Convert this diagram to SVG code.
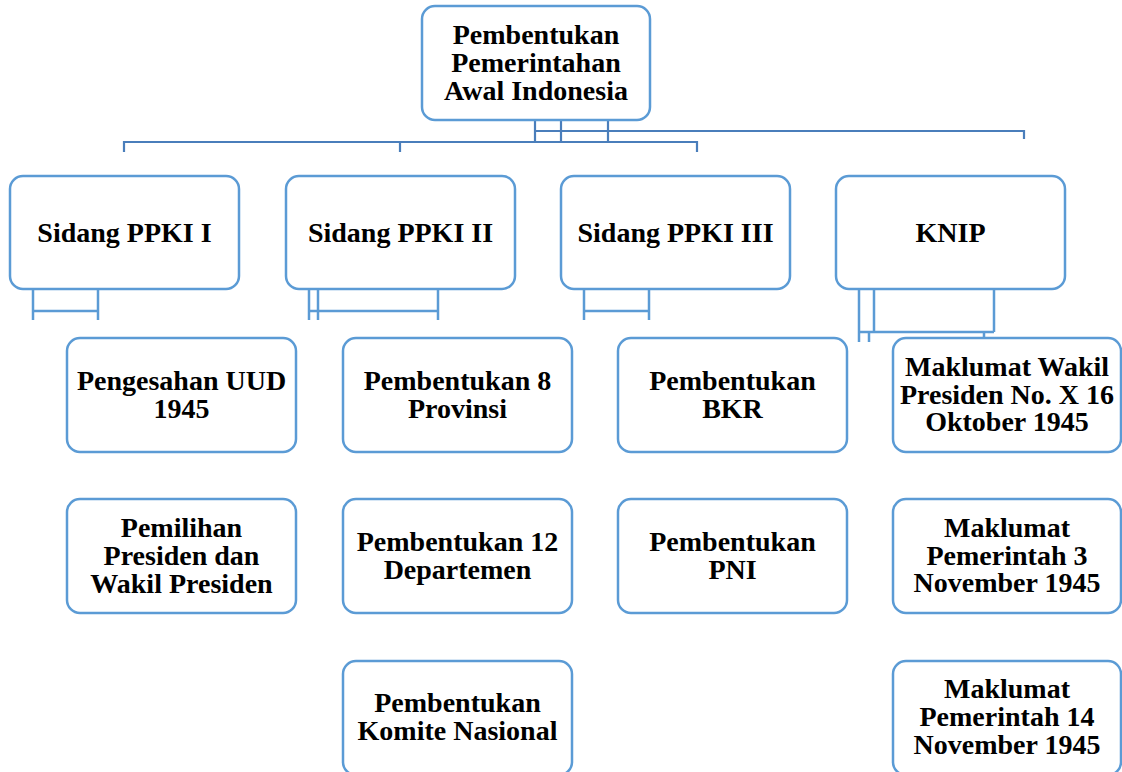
<svg xmlns="http://www.w3.org/2000/svg" width="1122" height="772" viewBox="0 0 1122 772">
<style>
.box{fill:#fff;stroke:#5B9BD5;stroke-width:2.5}
.t{font-family:"Liberation Serif","Times New Roman",serif;font-weight:bold;font-size:28px;fill:#000;text-anchor:middle}
.c1{stroke:#4A7EBB;stroke-width:2.2;fill:none}
.c2{stroke:#5B9BD5;stroke-width:2.5;fill:none}
</style>
<rect width="1122" height="772" fill="#fff"/>
<g id="connectors">
<path class="c1" d="M535 120V142M561 120V142M608 120V142M535 131H1024V139M124 152V142H697V152M400 142V152"/>
<path class="c2" d="M33 289V320M98 289V320M33 311H98"/>
<path class="c2" d="M309 289V320M318 289V320M438 289V320M309 311H438"/>
<path class="c2" d="M584 289V320M649 289V320M584 311H649"/>
<path class="c2" d="M859 289V342M874 289V332M994 289V332M859 332H994M869 332V342M984 332V337"/>
</g>
<g id="root">
<rect class="box" x="422" y="6" width="228" height="114" rx="13"/>
<text class="t" x="536" y="44">Pembentukan</text>
<text class="t" x="536" y="72">Pemerintahan</text>
<text class="t" x="536" y="100">Awal Indonesia</text>
</g>
<g id="ppki1">
<rect class="box" x="10" y="176" width="229" height="113" rx="13"/>
<text class="t" x="124.5" y="242">Sidang PPKI I</text>
</g>
<g id="ppki2">
<rect class="box" x="286" y="176" width="229" height="113" rx="13"/>
<text class="t" x="400.5" y="242">Sidang PPKI II</text>
</g>
<g id="ppki3">
<rect class="box" x="561" y="176" width="229" height="113" rx="13"/>
<text class="t" x="675.5" y="242">Sidang PPKI III</text>
</g>
<g id="knip">
<rect class="box" x="836" y="176" width="229" height="113" rx="13"/>
<text class="t" x="950.5" y="242">KNIP</text>
</g>
<g id="uud">
<rect class="box" x="67" y="338" width="229" height="114" rx="13"/>
<text class="t" x="181.5" y="390">Pengesahan UUD</text>
<text class="t" x="181.5" y="418">1945</text>
</g>
<g id="presiden">
<rect class="box" x="67" y="499" width="229" height="114" rx="13"/>
<text class="t" x="181.5" y="537">Pemilihan</text>
<text class="t" x="181.5" y="565">Presiden dan</text>
<text class="t" x="181.5" y="593">Wakil Presiden</text>
</g>
<g id="provinsi">
<rect class="box" x="343" y="338" width="229" height="114" rx="13"/>
<text class="t" x="457.5" y="390">Pembentukan 8</text>
<text class="t" x="457.5" y="418">Provinsi</text>
</g>
<g id="departemen">
<rect class="box" x="343" y="499" width="229" height="114" rx="13"/>
<text class="t" x="457.5" y="551">Pembentukan 12</text>
<text class="t" x="457.5" y="579">Departemen</text>
</g>
<g id="komite">
<rect class="box" x="343" y="661" width="229" height="114" rx="13"/>
<text class="t" x="457.5" y="712">Pembentukan</text>
<text class="t" x="457.5" y="740">Komite Nasional</text>
</g>
<g id="bkr">
<rect class="box" x="618" y="338" width="229" height="114" rx="13"/>
<text class="t" x="732.5" y="390">Pembentukan</text>
<text class="t" x="732.5" y="418">BKR</text>
</g>
<g id="pni">
<rect class="box" x="618" y="499" width="229" height="114" rx="13"/>
<text class="t" x="732.5" y="551">Pembentukan</text>
<text class="t" x="732.5" y="579">PNI</text>
</g>
<g id="maklumat1">
<rect class="box" x="893" y="338" width="228" height="114" rx="13"/>
<text class="t" x="1007" y="376">Maklumat Wakil</text>
<text class="t" x="1007" y="404">Presiden No. X 16</text>
<text class="t" x="1007" y="431">Oktober 1945</text>
</g>
<g id="maklumat2">
<rect class="box" x="893" y="499" width="228" height="114" rx="13"/>
<text class="t" x="1007" y="537">Maklumat</text>
<text class="t" x="1007" y="565">Pemerintah 3</text>
<text class="t" x="1007" y="592">November 1945</text>
</g>
<g id="maklumat3">
<rect class="box" x="893" y="661" width="228" height="114" rx="13"/>
<text class="t" x="1007" y="698">Maklumat</text>
<text class="t" x="1007" y="726">Pemerintah 14</text>
<text class="t" x="1007" y="754">November 1945</text>
</g>
</svg>
